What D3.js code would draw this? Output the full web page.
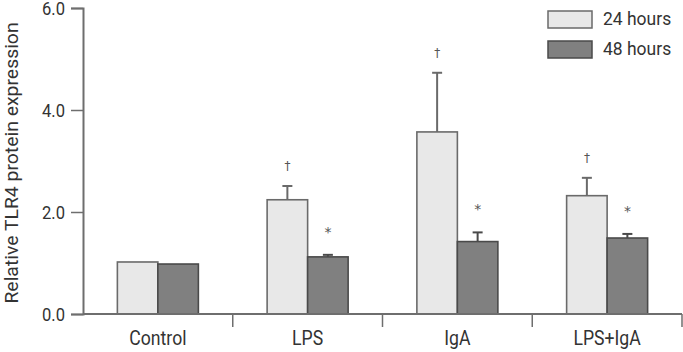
<!DOCTYPE html>
<html>
<head>
<meta charset="utf-8">
<script src="https://cdn.jsdelivr.net/npm/d3@7"></script>
<style>
	body { margin: 0; background: #fff; }
	text { font-family: 'Roboto', 'Liberation Sans', sans-serif; fill: #333; }
</style>
</head>
<body>
<div class="tlr4-chart"></div>
<script>
let categories = ['Control', 'LPS', 'IgA', 'LPS+IgA'],
	seriesNames = ['24 hours', '48 hours'],
	values24 = [1.02, 2.24, 3.57, 2.32],
	values48 = [0.98, 1.12, 1.42, 1.49],
	errors24 = [0, 0.27, 1.16, 0.35],
	errors48 = [0, 0.04, 0.18, 0.08],
	marks24 = ['', '†', '†', '†'],
	marks48 = ['', '*', '*', '*'],
	yTicks = [0, 2, 4, 6];

let width = 683,
	height = 352,
	margin = { top: 8, right: 1, bottom: 38, left: 83 },
	innerW = width - margin.left - margin.right,
	innerH = height - margin.top - margin.bottom,
	colors = ['#e8e8e8', '#808080'],
	strokes = ['#6a6a6a', '#4a4a4a'],
	axisColor = '#6e6e6e';

// squeeze text horizontally to mimic the condensed face of the original
function condense(sel, k) {
	sel.each(function () {
		let w = this.getComputedTextLength();
		d3.select(this).attr('textLength', w * k).attr('lengthAdjust', 'spacingAndGlyphs');
	});
}

let dataset = categories.map((c, i) => ({
	cat: c,
	bars: [
		{ s: 0, v: values24[i], e: errors24[i], m: marks24[i] },
		{ s: 1, v: values48[i], e: errors48[i], m: marks48[i] }
	]
}));

let xScale = d3.scaleBand().domain(categories).range([0, innerW]).paddingInner(0).paddingOuter(0),
	x1 = d3.scaleBand().domain([0, 1]).range([xScale.bandwidth() / 2 - 40.5, xScale.bandwidth() / 2 + 40.5]),
	yScale = d3.scaleLinear().domain([0, 6]).range([innerH, 0]);

let svg = d3.select('.tlr4-chart').append('svg')
	.attr('width', width)
	.attr('height', height);

let g = svg.append('g').attr('transform', 'translate(' + margin.left + ',' + margin.top + ')');

// bars
let group = g.selectAll('.grp')
	.data(dataset)
	.enter().append('g')
	.attr('class', 'grp')
	.attr('transform', d => 'translate(' + xScale(d.cat) + ',0)');

let bar = group.selectAll('.bar')
	.data(d => d.bars)
	.enter().append('g');

// error bars (drawn behind the boxes)
bar.filter(d => d.e > 0).append('line')
	.attr('x1', d => x1(d.s) + x1.bandwidth() / 2)
	.attr('x2', d => x1(d.s) + x1.bandwidth() / 2)
	.attr('y1', d => yScale(d.v))
	.attr('y2', d => yScale(d.v + d.e))
	.attr('stroke', d => strokes[d.s])
	.attr('stroke-width', 2);

bar.filter(d => d.e > 0).append('line')
	.attr('x1', d => x1(d.s) + x1.bandwidth() / 2 - 5)
	.attr('x2', d => x1(d.s) + x1.bandwidth() / 2 + 5)
	.attr('y1', d => yScale(d.v + d.e))
	.attr('y2', d => yScale(d.v + d.e))
	.attr('stroke', d => strokes[d.s])
	.attr('stroke-width', 2);

bar.append('rect')
	.attr('x', d => x1(d.s))
	.attr('y', d => yScale(d.v))
	.attr('width', x1.bandwidth())
	.attr('height', d => innerH - yScale(d.v))
	.attr('fill', d => colors[d.s])
	.attr('stroke', d => strokes[d.s])
	.attr('stroke-width', 1.6);

// significance marks
bar.filter(d => d.m !== '').append('text')
	.attr('x', d => x1(d.s) + x1.bandwidth() / 2)
	.attr('y', d => yScale(d.v + d.e) - (d.s === 0 ? 16 : 18))
	.attr('text-anchor', 'middle')
	.attr('font-size', d => d.s === 0 ? 12 : 14)
	.style('font-family', "'DejaVu Sans', sans-serif")
	.style('fill', '#555')
	.text(d => d.m);

// y axis
let yAxis = g.append('g')
	.call(d3.axisLeft(yScale).tickValues(yTicks).tickFormat(d3.format('.1f')).tickSize(12).tickPadding(6));
yAxis.select('.domain').attr('stroke', axisColor).attr('stroke-width', 2);
yAxis.selectAll('.tick line').attr('stroke', axisColor).attr('stroke-width', 1.5);
yAxis.selectAll('.tick text')
	.attr('font-size', 18)
	.attr('dy', '0.38em')
	.attr('font-family', "'Roboto', 'Liberation Sans', sans-serif")
	.style('fill', '#333')
	.call(condense, 0.92);

// x axis
let xAxis = g.append('g')
	.attr('transform', 'translate(0,' + innerH + ')');
xAxis.append('line')
	.attr('x1', 0).attr('x2', innerW)
	.attr('y1', 0).attr('y2', 0)
	.attr('stroke', axisColor)
	.attr('stroke-width', 2);
xAxis.selectAll('.xt')
	.data(categories)
	.enter().append('line')
	.attr('x1', d => xScale(d) + xScale.bandwidth())
	.attr('x2', d => xScale(d) + xScale.bandwidth())
	.attr('y1', 0).attr('y2', 13)
	.attr('stroke', axisColor)
	.attr('stroke-width', 1.5);
xAxis.selectAll('.xl')
	.data(categories)
	.enter().append('text')
	.attr('x', d => xScale(d) + xScale.bandwidth() / 2)
	.attr('y', 31)
	.attr('text-anchor', 'middle')
	.attr('font-size', 21)
	.text(d => d)
	.call(condense, 0.84);

// y label
svg.append('text')
	.attr('transform', 'translate(18,' + (margin.top + innerH / 2 + 2) + ') rotate(-90)')
	.attr('text-anchor', 'middle')
	.attr('font-size', 19)
	.text('Relative TLR4 protein expression')
	.call(condense, 1.02);

// legend
let legend = svg.append('g').attr('transform', 'translate(548,11)');
let item = legend.selectAll('.lg')
	.data(seriesNames)
	.enter().append('g')
	.attr('transform', (d, i) => 'translate(0,' + i * 30 + ')');
item.append('rect')
	.attr('width', 44)
	.attr('height', 17)
	.attr('fill', (d, i) => colors[i])
	.attr('stroke', (d, i) => strokes[i])
	.attr('stroke-width', 1.5);
item.append('text')
	.attr('x', 55)
	.attr('y', 14)
	.attr('font-size', 19)
	.text(d => d)
	.call(condense, 0.92);
</script>
</body>
</html>
